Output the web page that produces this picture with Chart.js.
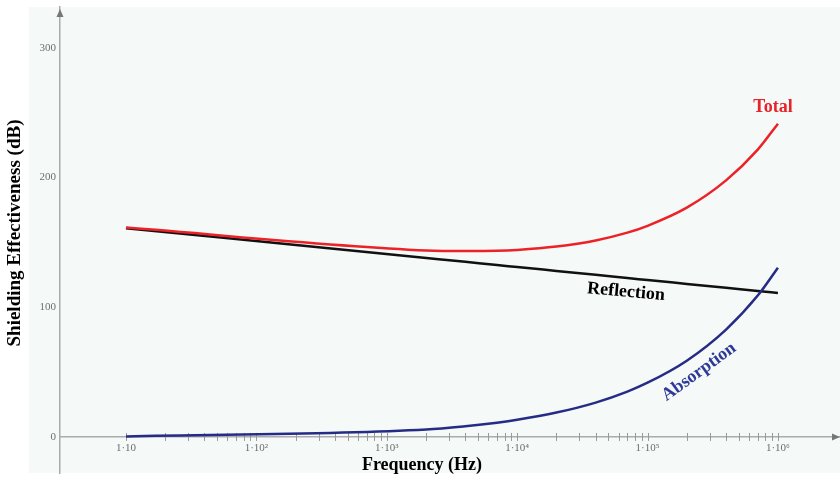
<!DOCTYPE html>
<html>
<head>
<meta charset="utf-8">
<script src="https://cdn.jsdelivr.net/npm/chart.js@4.4.0/dist/chart.umd.min.js"></script>
<style>
	body { margin: 0; background: #ffffff; }
	#chart_se { display: block; }
</style>
</head>
<body>
<canvas id="chart_se" width="840" height="477"></canvas>
<script>
// Frequency points (Hz)
const frequencies = [10, 2010, 4000, 7000, 10000, 20000, 40000, 70000, 100000, 200000, 400000, 700000, 1000000];
// Shielding effectiveness (dB)
const totalSE = [161.4, 143.8, 143.3, 143.5, 144.2, 146.8, 151.5, 157.5, 162.8, 176.8, 197.8, 221.5, 241.5];
const reflectionSE = [161, 138, 135, 132.5, 131, 128, 125, 122.5, 121, 118, 115, 112.5, 111];
const absorptionSE = [0.4, 5.8, 8.3, 11, 13.2, 18.8, 26.5, 35, 41.8, 58.8, 82.8, 109, 130.5];

// Axis labels
const xTickValues = [10, 100, 1000, 10000, 100000, 1000000];
const xTickLabels = ['1\u00B710', '1\u00B710\u00B2', '1\u00B710\u00B3', '1\u00B710\u2074', '1\u00B710\u2075', '1\u00B710\u2076'];
const yTickValues = [0, 100, 200, 300];

function toPoints(values) {
	return frequencies.map((f, i) => ({ x: f, y: values[i] }));
}

const serif = '"Liberation Serif", "Times New Roman", serif';

// background, minor ticks, arrows and text labels
const decorPlugin = {
	id: 'decor',
	beforeDraw(chart) {
		const { ctx, chartArea } = chart;
		ctx.save();
		ctx.fillStyle = '#f5f9f7';
		ctx.fillRect(29, chartArea.top, chartArea.right - 29, chartArea.bottom - chartArea.top);
		ctx.restore();
	},
	beforeDatasetsDraw(chart) {
		const { ctx } = chart;
		const xs = chart.scales.x;
		const y0 = chart.scales.y.getPixelForValue(0);
		ctx.save();
		ctx.strokeStyle = '#9a9a9a';
		ctx.lineWidth = 1;
		xs.ticks.forEach(t => {
			const v = t.value;
			if (v < 9.99 || v > 1000001) return;
			const mag = Math.pow(10, Math.floor(Math.log10(v) + 1e-9));
			const sig = v / mag;
			if (Math.abs(sig - Math.round(sig)) > 1e-6) return;
			const px = Math.round(xs.getPixelForValue(v)) + 0.5;
			ctx.beginPath();
			ctx.moveTo(px, y0 - 4);
			ctx.lineTo(px, y0 + 4);
			ctx.stroke();
		});
		ctx.restore();
	},
	afterDraw(chart) {
		const { ctx, chartArea } = chart;
		const y0 = chart.scales.y.getPixelForValue(0);
		const xl = chartArea.left;
		ctx.save();
		// arrows
		ctx.fillStyle = '#777777';
		ctx.beginPath();
		ctx.moveTo(xl, chartArea.top + 2);
		ctx.lineTo(xl - 3.5, chartArea.top + 10);
		ctx.lineTo(xl + 3.5, chartArea.top + 10);
		ctx.closePath();
		ctx.fill();
		ctx.beginPath();
		ctx.moveTo(chartArea.right, y0);
		ctx.lineTo(chartArea.right - 8, y0 - 3.5);
		ctx.lineTo(chartArea.right - 8, y0 + 3.5);
		ctx.closePath();
		ctx.fill();

		ctx.font = 'bold 18px ' + serif;
		ctx.textAlign = 'center';
		ctx.textBaseline = 'middle';

		// axis titles
		ctx.fillStyle = '#000000';
		ctx.fillText('Frequency (Hz)', 422, 465);
		ctx.save();
		ctx.translate(15.5, 233);
		ctx.rotate(-Math.PI / 2);
		ctx.font = 'bold 19px ' + serif;
		ctx.fillText('Shielding Effectiveness (dB)', 0, 0);
		ctx.restore();

		// curve labels
		ctx.fillStyle = '#e8232a';
		ctx.fillText('Total', 773, 107);

		ctx.fillStyle = '#000000';
		ctx.save();
		ctx.translate(626, 292);
		ctx.rotate(5 * Math.PI / 180);
		ctx.fillText('Reflection', 0, 0);
		ctx.restore();

		ctx.fillStyle = '#2f3a98';
		ctx.save();
		ctx.translate(699, 372);
		ctx.rotate(-36 * Math.PI / 180);
		ctx.fillText('Absorption', 0, 0);
		ctx.restore();

		ctx.restore();
	}
};

const chart_se_html = document.getElementById('chart_se');
const chart_se = new Chart(chart_se_html, {
	type: 'line',
	data: {
		datasets: [
			{
				label: 'Total',
				data: toPoints(totalSE),
				borderColor: '#ec2228',
				borderWidth: 2.5,
				pointRadius: 0,
				cubicInterpolationMode: 'monotone'
			},
			{
				label: 'Absorption',
				data: toPoints(absorptionSE),
				borderColor: '#262c86',
				borderWidth: 2.5,
				pointRadius: 0,
				cubicInterpolationMode: 'monotone'
			},
			{
				label: 'Reflection',
				data: toPoints(reflectionSE),
				borderColor: '#111111',
				borderWidth: 2.5,
				pointRadius: 0,
				cubicInterpolationMode: 'monotone'
			}
		]
	},
	options: {
		responsive: false,
		animation: false,
		devicePixelRatio: 1,
		layout: { padding: { left: 0, right: 0, top: 7, bottom: 4 } },
		plugins: {
			legend: { display: false },
			tooltip: { enabled: false }
		},
		scales: {
			x: {
				type: 'logarithmic',
				position: { y: 0 },
				min: 3.119,
				max: 2992000,
				bounds: 'data',
				grid: { display: false, drawTicks: false },
				border: { display: true, color: '#ababab', width: 1.5 },
				ticks: {
					autoSkip: false,
					maxRotation: 0,
					padding: 5,
					color: '#6e6e6e',
					font: { family: serif, size: 11 },
					callback: function(value) {
						const i = xTickValues.findIndex(v => Math.abs(v - value) < v * 1e-6);
						return i >= 0 ? xTickLabels[i] : '';
					}
				},
				afterFit: function(s) {
					s.paddingLeft = 0;
					s.paddingRight = 0;
				}
			},
			y: {
				type: 'linear',
				position: 'left',
				min: -27.8,
				max: 331.5,
				bounds: 'data',
				grid: { display: false, drawTicks: false },
				border: { display: true, color: '#ababab', width: 1.5 },
				afterBuildTicks: function(s) {
					s.ticks = yTickValues.map(v => ({ value: v }));
				},
				ticks: {
					autoSkip: false,
					padding: 4,
					color: '#6e6e6e',
					font: { family: serif, size: 11 },
					callback: function(value) {
						return String(value);
					}
				},
				afterFit: function(s) {
					s.width = 60;
					s.paddingTop = 0;
					s.paddingBottom = 0;
				}
			}
		}
	},
	plugins: [decorPlugin]
});
</script>
</body>
</html>
